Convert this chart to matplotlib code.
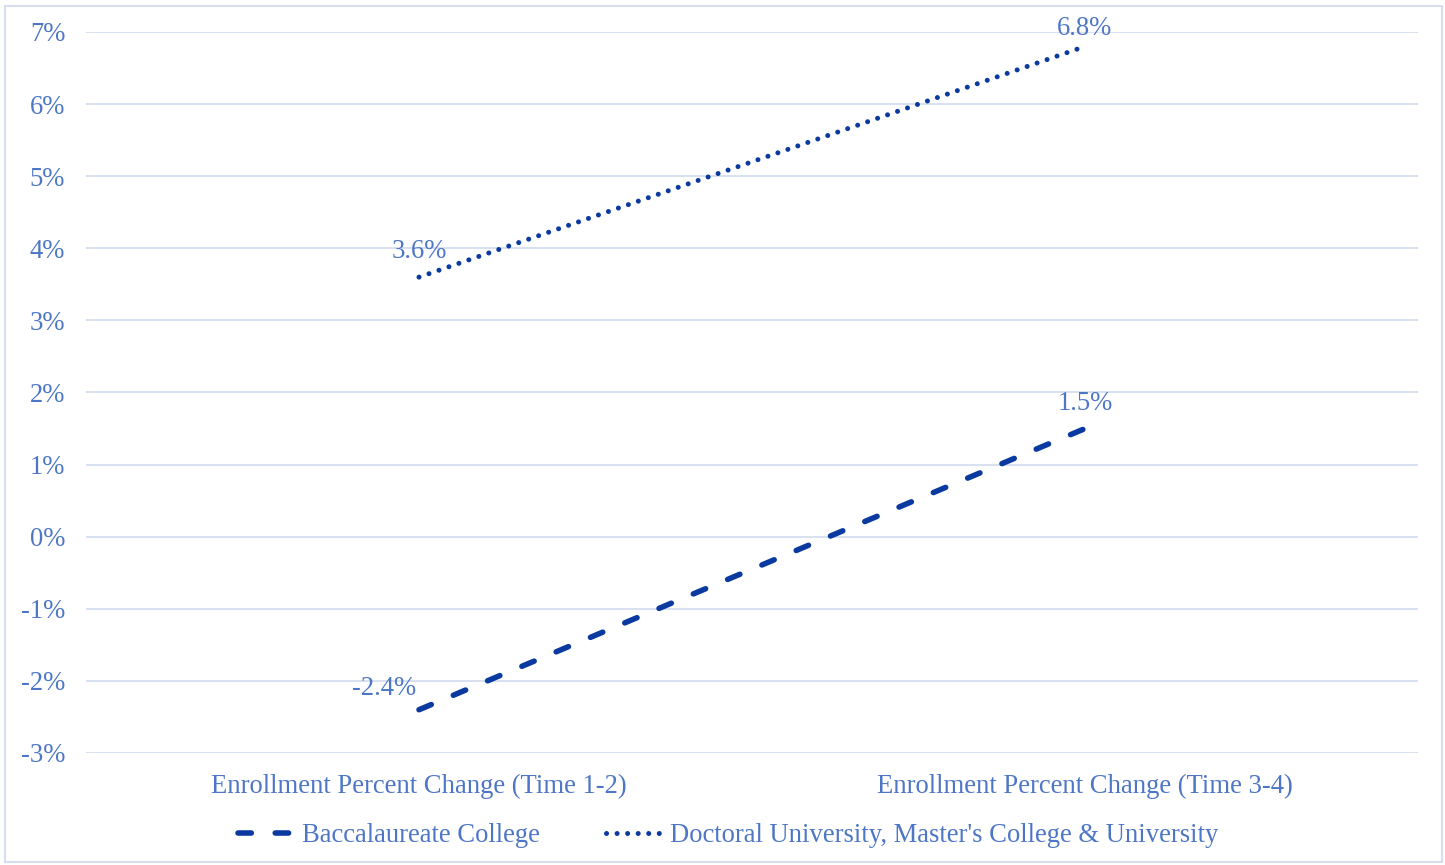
import matplotlib
matplotlib.use("Agg")
import matplotlib.pyplot as plt
from matplotlib.lines import Line2D
from matplotlib.patches import Rectangle

categories = ["Enrollment Percent Change (Time 1-2)", "Enrollment Percent Change (Time 3-4)"]
baccalaureate = [-2.4, 1.5]
doctoral_masters = [3.6, 6.8]
series_names = ["Baccalaureate College", "Doctoral University, Master's College & University"]
y_ticks = [-3, -2, -1, 0, 1, 2, 3, 4, 5, 6, 7]

TEXT = "#4E76C6"
LINE = "#0A3AA0"
GRID = "#D6DEEF"
FS = 19.2

plt.rcParams["font.family"] = ["Liberation Serif", "DejaVu Serif"]

fig = plt.figure(figsize=(14.45, 8.65), dpi=100)
ax = fig.add_axes([86 / 1445, 1 - 753 / 865, (1418 - 86) / 1445, (753 - 32) / 865])

DASH = (0, (2.4, 4.3))
DOT = (0, (0.01, 2.1))
x = list(range(len(categories)))
ax.plot(x, baccalaureate, color=LINE, lw=4.0, linestyle=DASH, dash_capstyle="round")
ax.plot(x, doctoral_masters, color=LINE, lw=3.6, linestyle=DOT, dash_capstyle="round")

ax.set_xlim(-0.5, 1.5)
ax.set_ylim(-3, 7)
ax.set_yticks(y_ticks)
ax.set_yticklabels([f"{v}%" for v in y_ticks])
ax.set_xticks(x)
ax.set_xticklabels(categories)
ax.grid(axis="y", color=GRID, lw=1.3)
ax.set_axisbelow(True)
for s in ax.spines.values():
    s.set_visible(False)
ax.tick_params(length=0, labelsize=FS, labelcolor=TEXT)
ax.tick_params(axis="y", pad=15)
ax.tick_params(axis="x", pad=15)
for lbl in ax.get_xticklabels() + ax.get_yticklabels():
    lbl.set_clip_on(False)

# value labels (offsets in points from each data point)
label_offsets = {
    (0, 0): (-25, 15), (1, 0): (0, 18),
    (0, 1): (0, 18.5), (1, 1): (0, 13),
}
for si, series in enumerate([baccalaureate, doctoral_masters]):
    for i, v in enumerate(series):
        dx, dy = label_offsets[(i, si)]
        ax.annotate(f"{v}%", (i, v), xytext=(dx, dy), textcoords="offset points",
                    ha="center", va="center", fontsize=FS, color=TEXT,
                    annotation_clip=False)

handles = [
    Line2D([], [], color=LINE, lw=4.0, linestyle=DASH, dash_capstyle="round"),
    Line2D([], [], color=LINE, lw=3.6, linestyle=DOT, dash_capstyle="round"),
]
fig.legend(handles, series_names, loc="center", bbox_to_anchor=(0.504, 1 - 836 / 865),
           ncol=2, frameon=False, fontsize=FS, labelcolor=TEXT,
           handlelength=2.15, handletextpad=0.25, columnspacing=2.5)

fig.patches.append(Rectangle((5 / 1445, 1 - 862 / 865), 1437 / 1445, 856 / 865,
                             transform=fig.transFigure, fill=False,
                             edgecolor="#D6DEEF", lw=1.5))

fig.savefig("out.png", dpi=100, facecolor="white")
